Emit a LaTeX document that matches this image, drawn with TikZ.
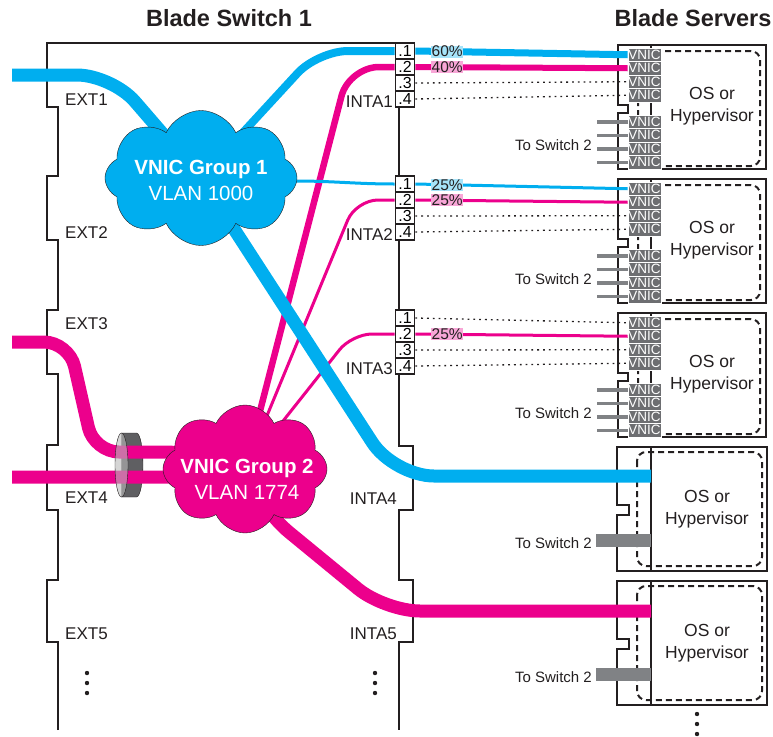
\documentclass[tikz,border=0pt]{standalone}
\usepackage{fontspec}
\setmainfont{Liberation Sans}
\usetikzlibrary{shapes,arrows,positioning,fit,backgrounds}

\definecolor{grpblue}{RGB}{0,174,239}
\definecolor{grppink}{RGB}{236,0,140}
\definecolor{nicgray}{RGB}{109,110,113}
\definecolor{wiregray}{RGB}{128,130,133}
\definecolor{inkline}{RGB}{35,31,32}
\definecolor{ringdark}{RGB}{95,95,98}

\begin{document}
\begin{tikzpicture}[x=1pt, y=-1pt]
    \tikzstyle{group}   = [draw=inkline, thin, cloud, cloud puffs=8, cloud puff arc=130, cloud ignores aspect, inner sep=0pt]
    \tikzstyle{grptext} = [text=white, align=center, font=\fontsize{20.5}{26}\selectfont]
    \tikzstyle{portbox} = [draw=inkline, line width=1.8pt, fill=white, minimum width=19pt, minimum height=16pt, inner sep=0pt, font=\fontsize{16}{16}\selectfont]
    \tikzstyle{vnic}    = [fill=nicgray, draw=white, line width=0.7pt, text=white, minimum width=33pt, minimum height=13.5pt, inner sep=0pt, font=\fontsize{13.5}{13.5}\selectfont]
    \tikzstyle{portlbl} = [font=\fontsize{17}{17}\selectfont, text=inkline, inner sep=0pt]
    \tikzstyle{title}   = [font=\bfseries\fontsize{23.5}{23.5}\selectfont, text=inkline]
    \tikzstyle{oslbl}   = [align=center, font=\fontsize{17.5}{22}\selectfont, text=inkline]
    \tikzstyle{tosw}    = [font=\fontsize{15}{15}\selectfont, text=inkline, inner sep=0pt, anchor=east]
    \tikzstyle{pct}     = [font=\fontsize{15.5}{15.5}\selectfont, text=inkline, inner sep=0.5pt, pos=0.15]
    \tikzstyle{edge}    = [draw=inkline, line width=2pt]
    \tikzstyle{osbox}   = [draw=inkline, line width=2pt, dash pattern=on 6pt off 4pt, rounded corners=9]
    \tikzstyle{trunk}   = [line width=13pt]
    \tikzstyle{unused}  = [draw=inkline, line width=1.3pt, dash pattern=on 1.8pt off 4pt]

    \useasboundingbox (0,0) rectangle (773,736);

    % Titles
    \node [title] (swtitle) at (229,18) {Blade Switch 1};
    \node [title] (srvtitle) at (693,18) {Blade Servers};

    % VNIC groups
    \node [group, fill=grpblue, minimum width=192pt, minimum height=135pt] (g1) at (201,178) {};
    \node [grptext] (g1txt) at (201,180) {\textbf{VNIC Group 1}\\VLAN 1000};
    \node [group, fill=grppink, minimum width=164pt, minimum height=128pt] (g2) at (245,469) {};
    \node [grptext] (g2txt) at (247,479) {\textbf{VNIC Group 2}\\VLAN 1774};

    % Uplink ends and server ends
    \coordinate (ext1) at (12,75);
    \coordinate (ext3) at (12,342);
    \coordinate (ext4) at (12,477);
    \coordinate (srv4) at (651,476);
    \coordinate (srv5) at (651,611);
    \coordinate (sw4) at (651,540);
    \coordinate (sw5) at (651,674);

    % Internal ports INTA1..INTA3
    \foreach \p/\yy in {1/43,2/176,3/310}
        \foreach \k in {1,...,4}
            \node [portbox] (i\p p\k) at (405,{\yy+16*\k-8}) {.\k};

    % Port labels
    \node [portlbl, anchor=base west] (ext1l) at (65,105) {EXT1};
    \node [portlbl, anchor=base west] (ext2l) at (65,238) {EXT2};
    \node [portlbl, anchor=base west] (ext3l) at (65,329) {EXT3};
    \node [portlbl, anchor=base west] (ext4l) at (65,503) {EXT4};
    \node [portlbl, anchor=base west] (ext5l) at (65,639) {EXT5};
    \node [portlbl, anchor=base east] (inta1l) at (393,107) {INTA1};
    \node [portlbl, anchor=base east] (inta2l) at (393,240) {INTA2};
    \node [portlbl, anchor=base east] (inta3l) at (393,374) {INTA3};
    \node [portlbl, anchor=base east] (inta4l) at (397,504) {INTA4};
    \node [portlbl, anchor=base east] (inta5l) at (397,639) {INTA5};

    % Servers with VNICs
    \foreach \s/\yy in {1/45,2/179,3/313} {
        \foreach \k in {1,...,4} {
            \node [vnic] (v\s a\k) at (644.5,{\yy+9.75+13.5*(\k-1)}) {VNIC};
            \node [vnic] (v\s b\k) at (644.5,{\yy+76.75+13.5*(\k-1)}) {VNIC};
        }
        \node [oslbl] (os\s) at (712,\yy+61) {OS or\\Hypervisor};
        \node [tosw] (tosw\s) at (592,\yy+100) {To Switch 2};
    }
    % Servers without VNICs
    \node [oslbl] (os4) at (707,509) {OS or\\Hypervisor};
    \node [tosw] (tosw4) at (592,543) {To Switch 2};
    \node [oslbl] (os5) at (707,643) {OS or\\Hypervisor};
    \node [tosw] (tosw5) at (592,677) {To Switch 2};

    % Continuation dots
    \foreach \yy in {673,683,693} {
        \fill [inkline] (87,\yy) circle (2.2);
        \fill [inkline] (375,\yy) circle (2.2);
    }
    \foreach \yy in {714,724,734}
        \fill [inkline] (697,\yy) circle (2.2);

    \begin{pgfonlayer}{background}
        % Switch outline
        \draw [edge] (58,730) -- (58,642) -- (47,642) -- (47,580) -- (58,580) -- (58,510) -- (47,510) -- (47,445) -- (58,445) -- (58,374) -- (47,374) -- (47,310) -- (58,310) -- (58,240) -- (47,240) -- (47,176) -- (58,176) -- (58,107) -- (47,107) -- (47,43) -- (396,43);
        \draw [edge] (399,100) -- (399,180) (399,235) -- (399,315) (399,370) -- (399,446) -- (413,446) -- (413,510) -- (399,510) -- (399,580) -- (413,580) -- (413,642) -- (399,642) -- (399,730);

        % Server outlines
        \foreach \yy in {45,179,313} {
            \draw [edge] (618,\yy) -- (766,\yy) -- (766,\yy+124) -- (618,\yy+124) -- (618,\yy+68) -- (628,\yy+68) -- (628,\yy+60) -- (618,\yy+60) -- cycle;
            \draw [osbox] (638,\yy+6) rectangle (760,\yy+121);
            \draw [edge] (651,\yy) -- (651,\yy+124);
        }
        \foreach \yy in {447,581} {
            \draw [edge] (617,\yy) -- (767,\yy) -- (767,\yy+124) -- (617,\yy+124) -- (617,\yy+68) -- (629,\yy+68) -- (629,\yy+58) -- (617,\yy+58) -- cycle;
            \draw [osbox] (637,\yy+5) rectangle (762,\yy+119);
            \draw [edge] (651,\yy) -- (651,\yy+124);
        }

        % LAG ring (body)
        \filldraw [fill=ringdark, draw=inkline, thin] (121.5,433) -- (136.5,433) arc [start angle=-90, end angle=90, x radius=6.5, y radius=32] -- (121.5,497) -- cycle;

        % Uplinks
        \draw [grpblue, trunk, rounded corners=35] (ext1) -- (112,75) -- (g1.center);
        \draw [grppink, trunk, rounded corners=25] (ext3) -- (69,342) -- (94,452) -- (190,452) -- (g2.center);
        \draw [grppink, trunk] (ext4) -- (190,477) -- (g2.center);

        % Group 2 to internal ports
        \draw [grppink, line width=6.5pt, rounded corners=30] (g2.center) -- (349,67) -- (i1p2.west);
        \draw [grppink, line width=3pt, rounded corners=22] (g2.center) -- (356,200) -- (i2p2.west);
        \draw [grppink, line width=3pt, rounded corners=20] (g2.center) -- (352,334) -- (i3p2.west);
        \draw [grppink, trunk, rounded corners=35] (g2.center) -- (262,510) -- (385,611) -- (srv5);

        % Group 1 to internal ports
        \draw [grpblue, line width=3pt] (g1.center) -- (295,181) to[out=0, in=180] (i2p1.west);
        \draw [grpblue, line width=8pt, rounded corners=30] (g1.center) -- (318,51) -- (i1p1.west);
        \draw [grpblue, trunk, rounded corners=40] (g1.center) -- (394,476) -- (srv4);

        % LAG ring (front face)
        \draw [inkline, thin, fill=gray!55, fill opacity=0.6] (121.5,465) ellipse [x radius=6.5, y radius=32];

        % Ports to server VNICs
        \draw [grpblue, line width=7pt] (i1p1.east) -- node [pct, fill=grpblue!35] {60\%} (v1a1.west);
        \draw [grppink, line width=6pt] (i1p2.east) -- node [pct, fill=grppink!35] {40\%} (v1a2.west);
        \draw [unused] (i1p3.east) -- (v1a3.west);
        \draw [unused] (i1p4.east) -- (v1a4.west);

        \draw [grpblue, line width=3pt] (i2p1.east) -- node [pct, fill=grpblue!35] {25\%} (v2a1.west);
        \draw [grppink, line width=3pt] (i2p2.east) -- node [pct, fill=grppink!35] {25\%} (v2a2.west);
        \draw [unused] (i2p3.east) -- (v2a3.west);
        \draw [unused] (i2p4.east) -- (v2a4.west);

        \draw [unused] (i3p1.east) -- (v3a1.west);
        \draw [grppink, line width=3pt] (i3p2.east) -- node [pct, fill=grppink!35] {25\%} (v3a2.west);
        \draw [unused] (i3p3.east) -- (v3a3.west);
        \draw [unused] (i3p4.east) -- (v3a4.west);

        % To Switch 2
        \foreach \s in {1,2,3}
            \foreach \k in {1,...,4}
                \draw [wiregray, line width=3.5pt] (v\s b\k.west) -- ++(-31,0);
        \draw [wiregray, line width=13pt] (sw4) -- ++(-55,0);
        \draw [wiregray, line width=13pt] (sw5) -- ++(-55,0);
    \end{pgfonlayer}
\end{tikzpicture}
\end{document}
